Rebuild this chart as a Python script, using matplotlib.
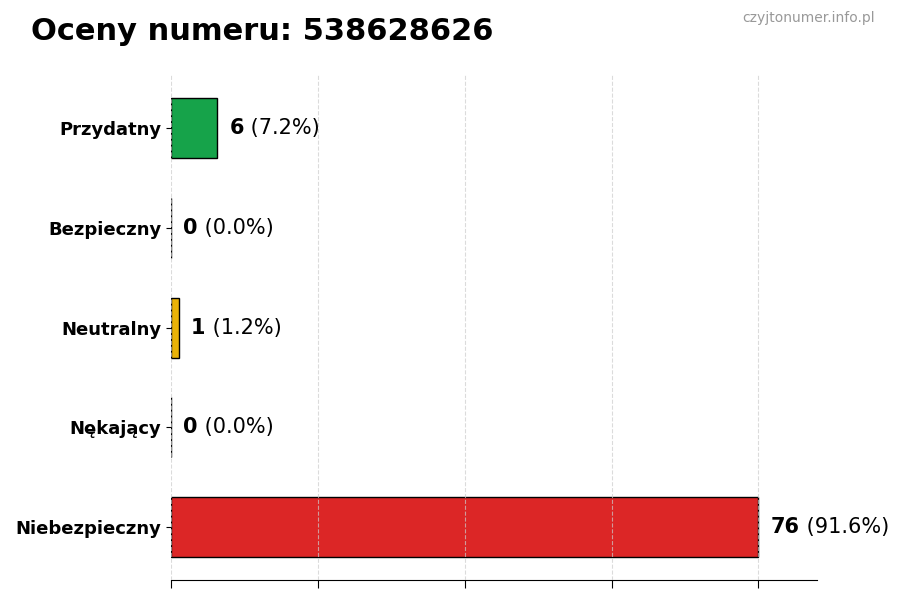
import matplotlib.pyplot as plt

# ratings for the number
categories = ["Przydatny", "Bezpieczny", "Neutralny", "Nękający", "Niebezpieczny"]
counts = [6, 0, 1, 0, 76]
colors = ["#16a34a", "#9ca3af", "#eab308", "#f97316", "#dc2626"]
title = "Oceny numeru: 538628626"
watermark = "czyjtonumer.info.pl"

total = sum(counts)

fig = plt.figure(figsize=(9, 6), dpi=100)
ax = fig.add_axes([0.19, 0.033, 0.718, 0.842])

ypos = list(range(len(categories)))
ax.barh(ypos, counts, height=0.6, color=colors, edgecolor="black", linewidth=1, zorder=2)
ax.invert_yaxis()
ax.set_yticks(ypos)
ax.set_yticklabels(categories, fontsize=13, fontweight="bold")

max_val = max(counts)
ax.set_xlim(0, max_val * 1.1)
ax.set_xticks([max_val / 4 * i for i in range(5)])
ax.set_xticklabels([])
ax.tick_params(axis="x", length=6)
ax.grid(axis="x", linestyle="--", color="#cccccc", alpha=0.7, zorder=3)
ax.set_axisbelow(False)

for s in ["top", "right", "left"]:
    ax.spines[s].set_visible(False)

# value labels: bold count + percentage
for y, c in zip(ypos, counts):
    pct = c / total * 100
    x0 = c + max_val * 0.021
    t = ax.text(x0, y, f"{c}", fontsize=15, fontweight="bold", va="center", ha="left")
    ax.annotate(f" ({pct:.1f}%)", xycoords=t, xy=(1, 0.5), va="center", ha="left", fontsize=15)

fig.text(0.034, 0.947, title, fontsize=22, fontweight="bold", va="center")
fig.text(0.972, 0.97, watermark, fontsize=10, color="#999999", ha="right", va="center")

fig.savefig("out.png", dpi=100)
